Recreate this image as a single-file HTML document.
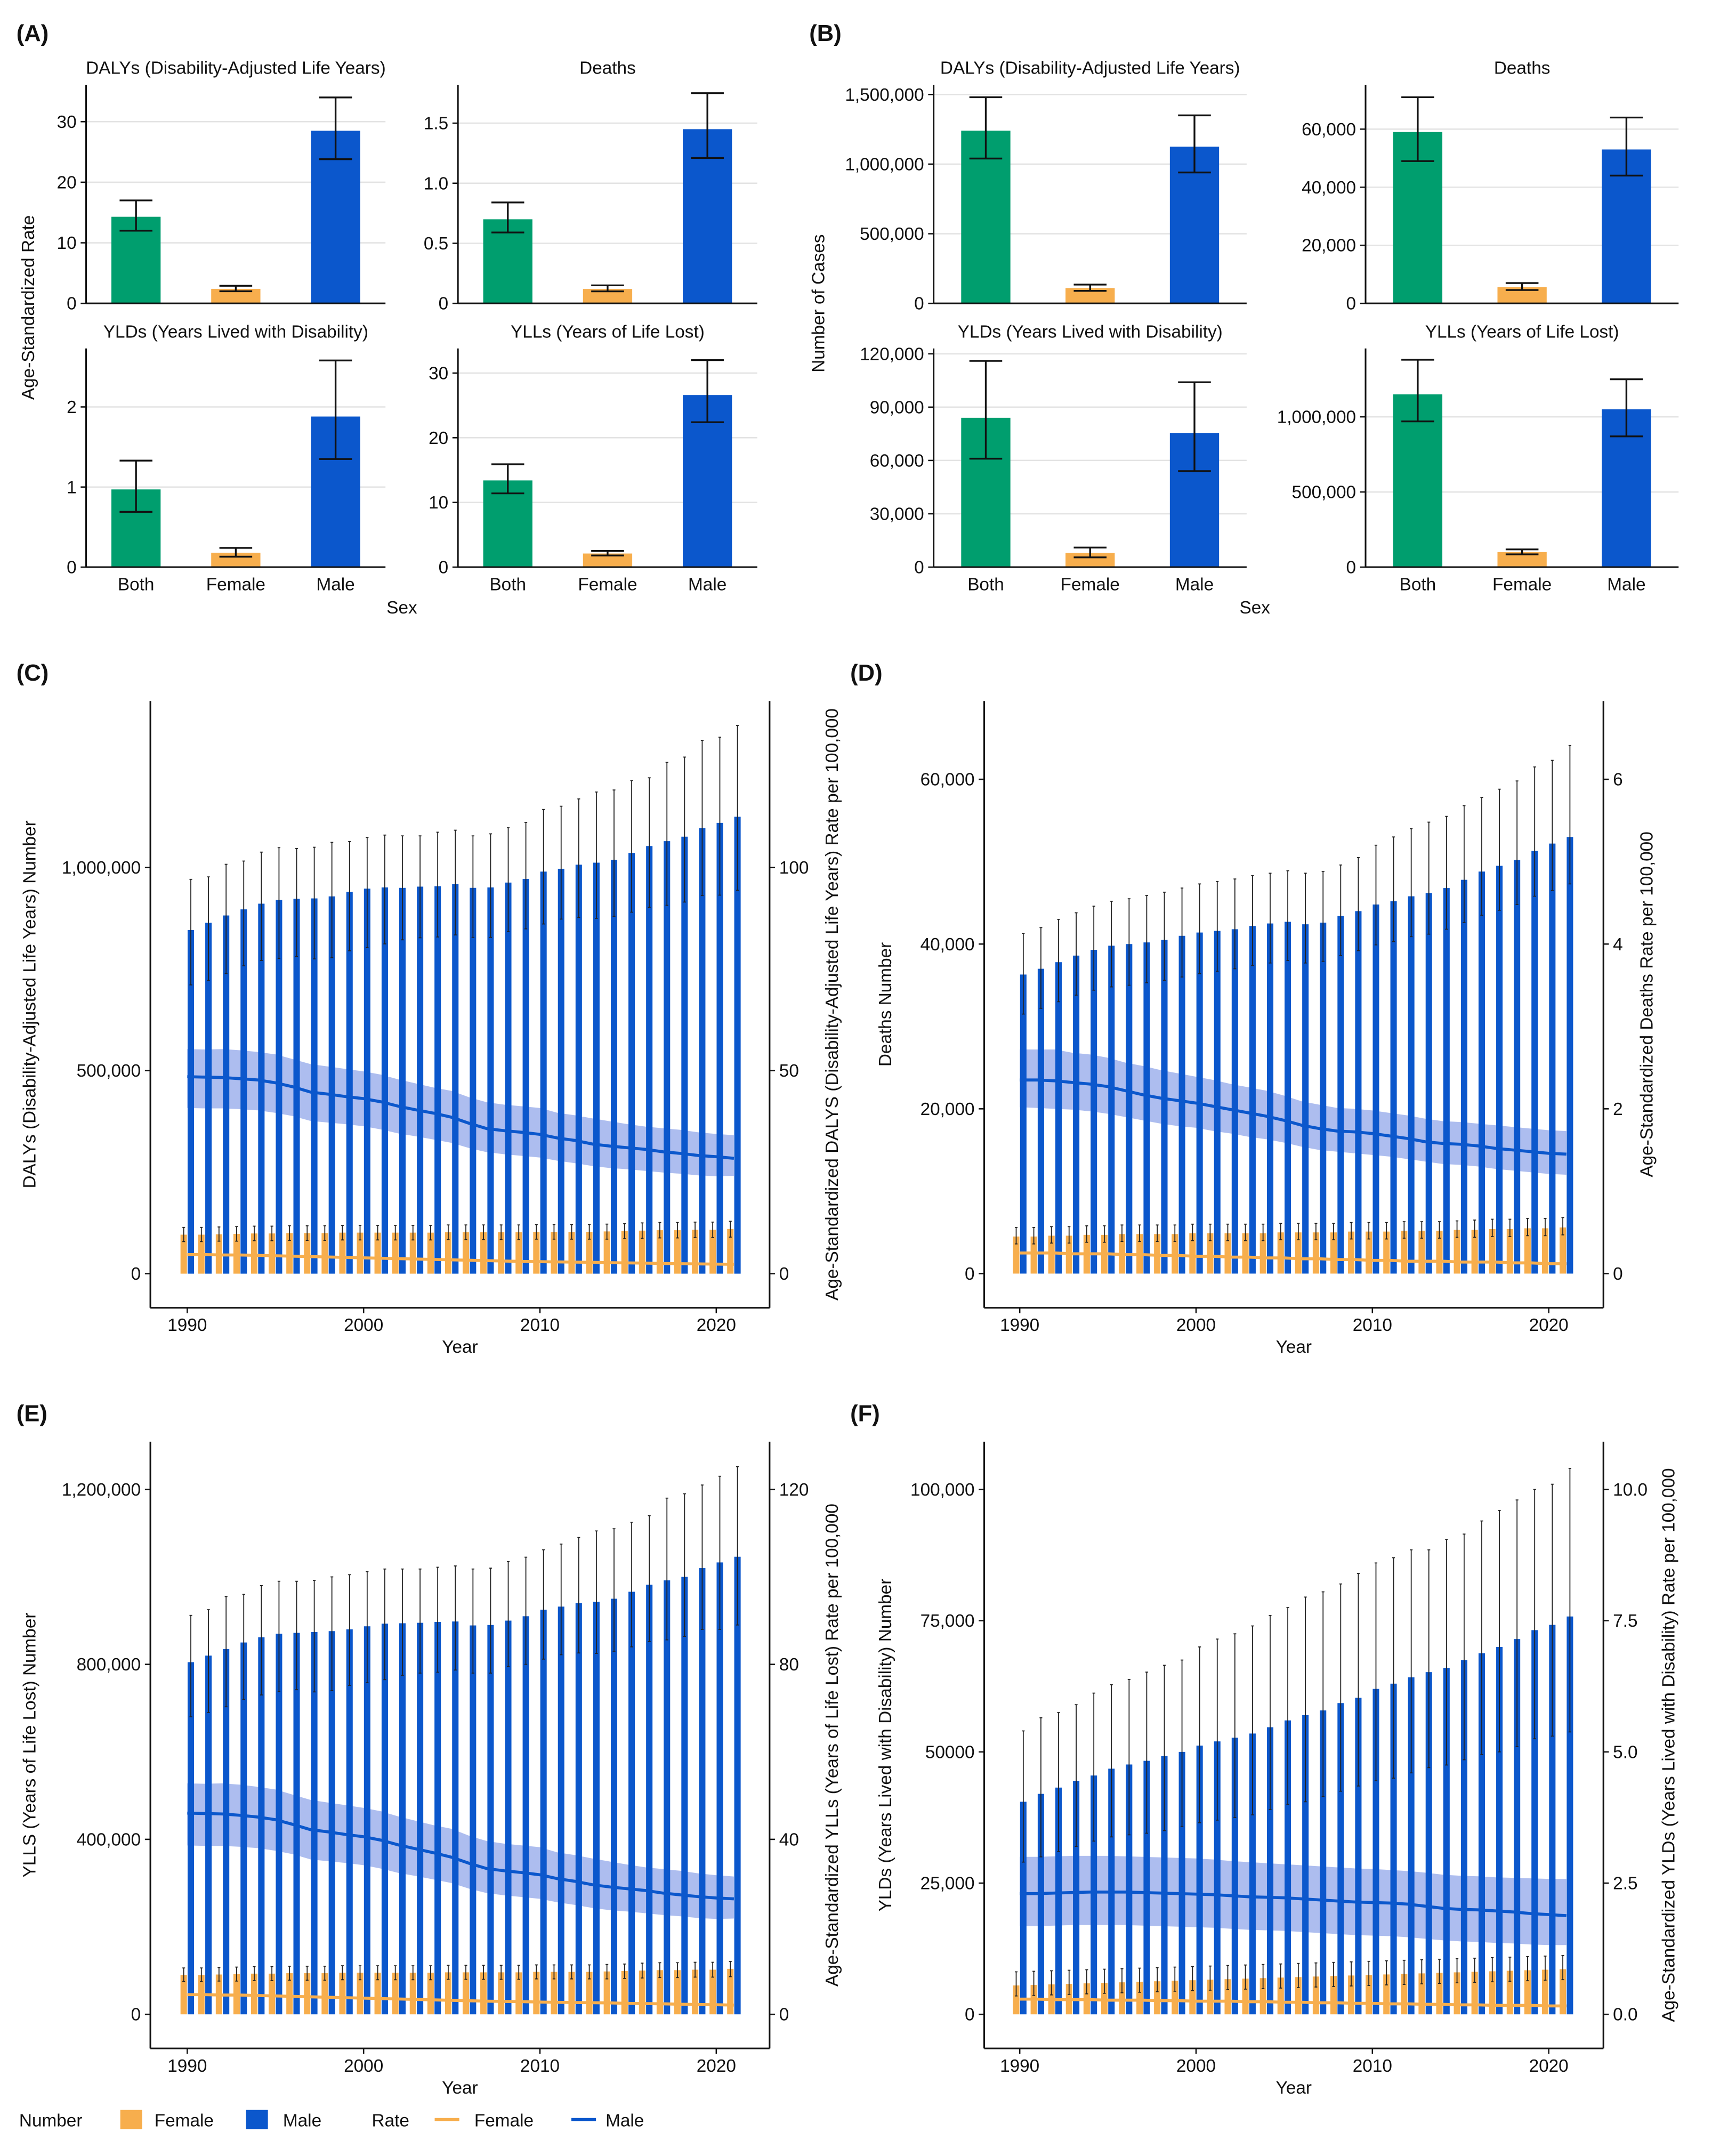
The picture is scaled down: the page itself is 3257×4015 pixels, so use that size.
<!DOCTYPE html>
<html><head><meta charset="utf-8"><style>
html,body{margin:0;padding:0;background:#fff}
svg{display:block}
text{font-family:"Liberation Sans",sans-serif;fill:#111}
</style></head><body>
<svg id="fig" width="3257" height="4015" viewBox="0 0 1270 1566" preserveAspectRatio="none" xmlns="http://www.w3.org/2000/svg"></svg>
<script>
// ---------- Panel A/B data ----------
const sexCats = ["Both","Female","Male"];
const aDalyVal=[14.3,2.4,28.5], aDalyLo=[12.0,2.0,23.8], aDalyHi=[17.0,2.9,34.0];
const aDeathVal=[0.70,0.12,1.45], aDeathLo=[0.59,0.10,1.21], aDeathHi=[0.84,0.15,1.75];
const aYldVal=[0.97,0.18,1.88], aYldLo=[0.69,0.13,1.35], aYldHi=[1.33,0.24,2.58];
const aYllVal=[13.4,2.1,26.6], aYllLo=[11.4,1.8,22.4], aYllHi=[15.9,2.5,32.0];
const bDalyVal=[1240000,110000,1125000], bDalyLo=[1040000,90000,940000], bDalyHi=[1480000,135000,1350000];
const bDeathVal=[59000,5600,53000], bDeathLo=[49000,4600,44000], bDeathHi=[71000,7000,64000];
const bYldVal=[84000,8000,75500], bYldLo=[61000,5500,54000], bYldHi=[116000,11000,104000];
const bYllVal=[1150000,100000,1050000], bYllLo=[970000,85000,870000], bYllHi=[1380000,118000,1250000];
// ---------- Time series (years 1990-2021) ----------
const years=[];for(let y=1990;y<=2021;y++)years.push(y);
const cMale=[846,864,882,897,911,920,923,924,929,940,948,951,950,953,954,959,950,951,963,972,990,997,1007,1012,1019,1036,1053,1065,1076,1097,1110,1125];
const cMaleHi=[971,977,1008,1016,1038,1049,1047,1050,1062,1064,1074,1080,1078,1078,1087,1092,1078,1083,1098,1111,1143,1151,1169,1186,1191,1214,1221,1259,1272,1313,1321,1350];
const cMaleLo=[711,722,739,758,771,776,781,775,778,795,803,812,822,827,829,834,828,828,842,849,861,873,877,875,880,890,902,907,915,931,932,944];
const cFem=[96,96,97,98,99,99,100,100,100,101,101,101,101,101,101,102,102,102,102,102,103,103,103,103,104,105,106,107,107,108,108,110];
const cFemHi=[114,114,115,116,117,117,118,118,118,119,119,119,119,119,119,120,120,120,120,120,121,121,121,121,122,123,125,126,126,127,127,129];
const cFemLo=[79,79,80,80,81,81,82,82,82,83,83,83,83,83,83,84,84,84,84,84,85,85,85,85,85,86,87,88,88,89,89,90];
const cRateM=[48.5,48.4,48.3,48.0,47.7,47.0,46.0,44.7,44.2,43.6,43.1,42.3,41.2,40.3,39.5,38.5,37.0,35.7,35.2,34.8,34.3,33.4,32.8,31.9,31.4,31.0,30.6,30.0,29.6,29.1,28.8,28.4];
const cRateMHi=[55.3,55.2,55.3,55.0,54.6,54.0,52.8,51.6,51.0,50.4,49.8,49.0,47.8,46.8,45.8,45.0,43.4,42.2,41.6,41.2,40.8,39.6,39.0,38.2,37.5,36.8,36.2,35.8,35.4,34.8,34.4,34.1];
const cRateMLo=[40.8,40.7,40.7,40.5,40.2,39.6,38.8,37.6,37.2,36.8,36.3,35.5,34.5,33.8,33.0,32.2,30.9,29.9,29.4,29.0,28.6,27.8,27.2,26.5,26.0,25.7,25.3,24.9,24.6,24.2,24.0,24.1];
const cRateF=[4.7,4.7,4.6,4.6,4.5,4.4,4.3,4.2,4.1,4.0,3.9,3.8,3.7,3.6,3.5,3.4,3.3,3.2,3.1,3.0,2.95,2.9,2.85,2.8,2.7,2.65,2.6,2.5,2.45,2.4,2.35,2.3];
const dMale=[36.3,37.0,37.8,38.6,39.3,39.8,40.0,40.2,40.5,41.0,41.4,41.6,41.8,42.2,42.5,42.7,42.4,42.6,43.4,44.0,44.8,45.2,45.8,46.2,46.8,47.8,48.8,49.5,50.2,51.3,52.2,53.0];
const dMaleHi=[41.3,42.0,43.0,43.8,44.6,45.2,45.5,45.9,46.3,46.8,47.3,47.6,47.9,48.3,48.6,48.9,48.6,48.8,49.6,50.5,52.0,53.0,54.0,54.8,55.5,56.8,57.8,58.8,59.8,61.5,62.3,64.1];
const dMaleLo=[31.5,32.2,33.0,33.8,34.4,34.8,35.0,35.3,35.6,36.0,36.4,36.7,37.0,37.4,37.7,38.0,37.7,37.9,38.6,39.2,39.9,40.3,40.9,41.2,41.8,42.6,43.5,44.1,44.8,45.8,46.5,47.3];
const dFem=[4.5,4.5,4.6,4.6,4.7,4.7,4.8,4.8,4.8,4.8,4.9,4.9,4.9,4.9,4.9,5.0,5.0,5.0,5.0,5.1,5.1,5.1,5.2,5.2,5.2,5.3,5.3,5.4,5.4,5.5,5.5,5.6];
const dFemHi=[5.6,5.6,5.7,5.7,5.8,5.8,5.9,5.9,5.9,5.9,6.0,6.0,6.0,6.0,6.0,6.1,6.1,6.1,6.1,6.2,6.2,6.2,6.3,6.3,6.3,6.4,6.5,6.6,6.6,6.7,6.7,6.8];
const dFemLo=[3.6,3.6,3.7,3.7,3.8,3.8,3.9,3.9,3.9,3.9,4.0,4.0,4.0,4.0,4.0,4.1,4.1,4.1,4.1,4.2,4.2,4.2,4.3,4.3,4.3,4.4,4.4,4.5,4.5,4.6,4.6,4.7];
const dRateM=[2.35,2.35,2.34,2.32,2.30,2.27,2.22,2.17,2.13,2.10,2.07,2.03,1.99,1.95,1.91,1.86,1.80,1.76,1.73,1.72,1.70,1.67,1.64,1.60,1.58,1.57,1.55,1.52,1.50,1.48,1.46,1.45];
const dRateMHi=[2.72,2.72,2.72,2.68,2.66,2.62,2.56,2.52,2.47,2.43,2.39,2.35,2.30,2.26,2.22,2.16,2.09,2.05,2.01,2.00,1.98,1.95,1.92,1.88,1.85,1.84,1.82,1.80,1.78,1.76,1.74,1.73];
const dRateMLo=[2.02,2.01,2.00,1.99,1.97,1.94,1.90,1.86,1.82,1.79,1.77,1.73,1.70,1.66,1.63,1.59,1.54,1.50,1.48,1.46,1.44,1.42,1.39,1.36,1.33,1.32,1.30,1.27,1.25,1.23,1.21,1.20];
const dRateF=[0.25,0.25,0.25,0.24,0.24,0.24,0.23,0.23,0.22,0.22,0.21,0.21,0.20,0.20,0.19,0.19,0.18,0.18,0.17,0.17,0.16,0.16,0.15,0.15,0.15,0.14,0.14,0.14,0.13,0.13,0.12,0.12];
const eMale=[805,820,835,850,862,870,872,874,876,880,887,893,894,895,897,898,889,890,900,910,925,932,940,943,950,966,982,992,1000,1020,1033,1046];
const eMaleHi=[912,925,955,960,980,990,990,992,1000,1005,1012,1018,1018,1018,1022,1025,1018,1020,1035,1045,1062,1075,1090,1105,1110,1125,1140,1180,1190,1210,1230,1252];
const eMaleLo=[680,690,703,720,730,738,742,737,740,752,758,765,775,780,782,787,780,780,795,800,812,822,826,825,830,840,852,856,864,880,880,890];
const eFem=[90,90,91,92,93,93,94,94,94,95,95,95,95,95,95,96,96,96,96,96,97,97,97,97,98,99,100,101,101,102,102,104];
const eFemHi=[106,106,107,108,109,109,110,110,110,111,111,111,111,111,111,112,112,112,112,112,113,113,113,113,114,115,117,118,118,119,119,121];
const eFemLo=[75,75,76,76,77,77,78,78,78,79,79,79,79,79,79,80,80,80,80,80,81,81,81,81,81,82,83,84,84,85,85,86];
const eRateM=[46.0,45.9,45.8,45.5,45.1,44.5,43.4,42.2,41.7,41.1,40.6,39.8,38.7,37.8,36.9,35.9,34.5,33.3,32.8,32.4,31.9,31.0,30.4,29.6,29.1,28.7,28.3,27.7,27.3,26.9,26.6,26.4];
const eRateMHi=[52.8,52.7,52.8,52.5,52.0,51.4,50.2,49.0,48.4,47.8,47.2,46.4,45.2,44.2,43.2,42.4,40.8,39.6,39.0,38.6,38.2,37.0,36.4,35.6,34.9,34.2,33.6,33.2,32.8,32.2,31.8,31.5];
const eRateMLo=[38.6,38.5,38.5,38.3,38.0,37.4,36.6,35.4,35.0,34.6,34.1,33.3,32.3,31.6,30.8,30.0,28.7,27.7,27.2,26.8,26.4,25.6,25.0,24.3,23.8,23.5,23.1,22.7,22.4,22.0,21.8,21.9];
const eRateF=[4.5,4.5,4.4,4.4,4.3,4.2,4.1,4.0,3.9,3.8,3.7,3.6,3.5,3.4,3.3,3.2,3.1,3.0,2.95,2.9,2.8,2.75,2.7,2.65,2.6,2.5,2.45,2.4,2.3,2.25,2.2,2.1];
const fMale=[40.5,42.0,43.2,44.5,45.5,46.8,47.6,48.3,49.2,50.0,51.2,52.0,52.7,53.5,54.7,56.0,57.0,57.9,59.3,60.3,62.0,63.0,64.2,65.2,66.0,67.5,68.8,70.0,71.5,73.2,74.2,75.8];
const fMaleHi=[54,56.5,57.5,59,61.2,62.8,63.8,65.2,66.5,67.5,70,71.5,72.5,74,76,77.5,79.5,80.5,82,84,86,87,88.5,88.5,90.5,91.5,94,96,98,100,101,104];
const fMaleLo=[29,30,31,32,33,33.8,34.2,34.5,35,35.8,36.5,37,37.5,38,39,40,40.5,41.5,42.5,43.5,44.5,45,46,47,47.5,48.5,49.5,50,51,52.5,53,53.8];
const fFem=[5.5,5.6,5.7,5.8,5.9,6.0,6.1,6.2,6.3,6.4,6.5,6.6,6.7,6.8,6.9,7.0,7.1,7.2,7.3,7.4,7.5,7.6,7.7,7.8,7.9,8.0,8.1,8.2,8.3,8.4,8.5,8.6];
const fFemHi=[8.1,8.2,8.3,8.4,8.5,8.6,8.7,8.8,8.9,9.0,9.1,9.2,9.3,9.4,9.5,9.6,9.7,9.8,9.9,10.0,10.1,10.2,10.3,10.4,10.5,10.6,10.7,10.8,10.9,11.0,11.1,11.2];
const fFemLo=[3.5,3.6,3.7,3.8,3.9,4.0,4.1,4.2,4.3,4.4,4.5,4.6,4.7,4.8,4.9,5.0,5.1,5.2,5.3,5.4,5.5,5.6,5.7,5.8,5.9,6.0,6.1,6.2,6.3,6.4,6.5,6.6];
const fRateM=[2.30,2.30,2.31,2.32,2.33,2.33,2.33,2.32,2.31,2.30,2.29,2.28,2.26,2.24,2.23,2.22,2.20,2.18,2.16,2.14,2.13,2.12,2.10,2.06,2.02,2.00,1.99,1.97,1.95,1.92,1.90,1.88];
const fRateMHi=[3.00,3.00,3.01,3.02,3.02,3.02,3.01,3.00,2.99,2.98,2.97,2.95,2.92,2.90,2.88,2.86,2.84,2.82,2.80,2.78,2.77,2.75,2.73,2.70,2.66,2.64,2.63,2.61,2.60,2.59,2.58,2.58];
const fRateMLo=[1.68,1.68,1.69,1.70,1.70,1.70,1.70,1.69,1.68,1.67,1.66,1.65,1.63,1.61,1.60,1.59,1.57,1.55,1.53,1.51,1.50,1.49,1.47,1.44,1.41,1.39,1.38,1.36,1.35,1.33,1.32,1.32];
const fRateF=[0.29,0.29,0.28,0.28,0.28,0.27,0.27,0.27,0.26,0.26,0.25,0.25,0.25,0.24,0.24,0.23,0.23,0.22,0.22,0.21,0.21,0.20,0.20,0.19,0.19,0.18,0.18,0.17,0.17,0.17,0.16,0.16];

const NS="http://www.w3.org/2000/svg";
const svg=document.getElementById('fig');
const GREEN="#009e6e",ORANGE="#f7ae4d",BLUE="#0b57cc",BAND="#9fb2ec";
function el(tag,attrs,parent){const e=document.createElementNS(NS,tag);for(const k in attrs)e.setAttribute(k,attrs[k]);(parent||svg).appendChild(e);return e;}
function txt(s,x,y,size,anchor,parent,rot){const t=el('text',{x:x,y:y,'font-size':size,'text-anchor':anchor||'middle'},parent);if(rot)t.setAttribute('transform','rotate(-90 '+x+' '+y+')');t.textContent=s;return t;}

function label(s,x,y){const t=txt(s,x,y,17,'start');t.setAttribute('font-weight','bold');

}

function barPanel(name,x0,x1,yTop,yBot,dmax,ticks,tickLbl,vals,lo,hi,title,showX){
  const g=el('g',{});
  
  
  const ys=v=>yBot-(v/dmax)*(yBot-yTop);
  const xs=i=>x0+((i+0.5)/3)*(x1-x0);
  ticks.forEach((t,i)=>{
    const gl=el('line',{x1:x0,x2:x1,y1:ys(t),y2:ys(t),stroke:'#e3e3e3','stroke-width':1},g);
    
    
    el('line',{x1:x0-4,x2:x0,y1:ys(t),y2:ys(t),stroke:'#111','stroke-width':1},g);
    const tl=txt(tickLbl[i],x0-7,ys(t)+4.5,13,'end',g);
    
    
  });
  const cols=[GREEN,ORANGE,BLUE];
  vals.forEach((v,i)=>{
    const cx=xs(i),w=36;
    const r=el('rect',{x:cx-w/2,y:ys(v),width:w,height:ys(0)-ys(v),fill:cols[i]},g);
    
    
    el('line',{x1:cx,x2:cx,y1:ys(lo[i]),y2:ys(hi[i]),stroke:'#111','stroke-width':1.3},g);
    el('line',{x1:cx-12,x2:cx+12,y1:ys(lo[i]),y2:ys(lo[i]),stroke:'#111','stroke-width':1.3},g);
    el('line',{x1:cx-12,x2:cx+12,y1:ys(hi[i]),y2:ys(hi[i]),stroke:'#111','stroke-width':1.3},g);
    if(showX){const xl=txt(sexCats[i],cx,yBot+17,13,'middle',g);
      
      }
  });
  el('line',{x1:x0,x2:x0,y1:yTop,y2:yBot,stroke:'#111','stroke-width':1.2},g);
  el('line',{x1:x0,x2:x1,y1:yBot,y2:yBot,stroke:'#111','stroke-width':1.2},g);
  const tt=txt(title,(x0+x1)/2,yTop-8,13,'middle',g);
  
  
}

label('(A)',12,30);
barPanel('a-dalys',63,282,62,222,36.1,[0,10,20,30],['0','10','20','30'],aDalyVal,aDalyLo,aDalyHi,'DALYs (Disability-Adjusted Life Years)',false);
barPanel('a-deaths',335,554,62,222,1.82,[0,0.5,1,1.5],['0','0.5','1.0','1.5'],aDeathVal,aDeathLo,aDeathHi,'Deaths',false);
barPanel('a-ylds',63,282,255,415,2.73,[0,1,2],['0','1','2'],aYldVal,aYldLo,aYldHi,'YLDs (Years Lived with Disability)',true);
barPanel('a-ylls',335,554,255,415,33.8,[0,10,20,30],['0','10','20','30'],aYllVal,aYllLo,aYllHi,'YLLs (Years of Life Lost)',true);
let t=txt('Age-Standardized Rate',25,225,13,'middle',null,true);


t=txt('Sex',294,449,13,'middle');


label('(B)',592,30);
barPanel('b-dalys',683,912,62,222,1570000,[0,500000,1000000,1500000],['0','500,000','1,000,000','1,500,000'],bDalyVal,bDalyLo,bDalyHi,'DALYs (Disability-Adjusted Life Years)',false);
barPanel('b-deaths',999,1228,62,222,75300,[0,20000,40000,60000],['0','20,000','40,000','60,000'],bDeathVal,bDeathLo,bDeathHi,'Deaths',false);
barPanel('b-ylds',683,912,255,415,123000,[0,30000,60000,90000,120000],['0','30,000','60,000','90,000','120,000'],bYldVal,bYldLo,bYldHi,'YLDs (Years Lived with Disability)',true);
barPanel('b-ylls',999,1228,255,415,1455000,[0,500000,1000000],['0','500,000','1,000,000'],bYllVal,bYllLo,bYllHi,'YLLs (Years of Life Lost)',true);
t=txt('Number of Cases',603,222,13,'middle',null,true);


t=txt('Sex',918,449,13,'middle');



function tsPanel(name,x0,x1,yTop,yBot,x1990,dmin,dmax,unit,rateDiv,lt,ltl,rt,rtl,male,mHi,mLo,fem,fHi,fLo,rM,rMHi,rMLo,rF,ylab,rlab,lOff,rOff){
  const g=el('g',{});
  
  
  const ys=v=>yBot-((v-dmin)/(dmax-dmin))*(yBot-yTop);
  const yr=v=>ys(v*rateDiv);
  const xs=y=>x1990+(y-1990)*12.9;
  const bw=4.7;
  let p='';years.forEach((y,i)=>{p+=(i?'L':'M')+xs(y)+' '+yr(rMHi[i]);});
  for(let i=years.length-1;i>=0;i--)p+='L'+xs(years[i])+' '+yr(rMLo[i]);
  const band=el('path',{d:p+'Z',fill:BAND,opacity:0.85},g);
  
  
  years.forEach((y,i)=>{
    const xf=xs(y)-2.6, xm=xs(y)+2.6;
    const rf=el('rect',{x:xf-bw/2,y:ys(fem[i]*unit),width:bw,height:ys(0)-ys(fem[i]*unit),fill:ORANGE},g);
    
    
    const rm=el('rect',{x:xm-bw/2,y:ys(male[i]*unit),width:bw,height:ys(0)-ys(male[i]*unit),fill:BLUE},g);
    
    
    [[xf,fLo[i],fHi[i]],[xm,mLo[i],mHi[i]]].forEach(e=>{
      el('line',{x1:e[0],x2:e[0],y1:ys(e[1]*unit),y2:ys(e[2]*unit),stroke:'#222','stroke-width':0.7},g);
      el('line',{x1:e[0]-1,x2:e[0]+1,y1:ys(e[1]*unit),y2:ys(e[1]*unit),stroke:'#222','stroke-width':0.7},g);
      el('line',{x1:e[0]-1,x2:e[0]+1,y1:ys(e[2]*unit),y2:ys(e[2]*unit),stroke:'#222','stroke-width':0.7},g);
    });
  });
  let lm='',lf='';years.forEach((y,i)=>{lm+=(i?'L':'M')+xs(y)+' '+yr(rM[i]);lf+=(i?'L':'M')+xs(y)+' '+yr(rF[i]);});
  const pf=el('path',{d:lf,fill:'none',stroke:ORANGE,'stroke-width':2.2},g);
  
  
  const pm=el('path',{d:lm,fill:'none',stroke:BLUE,'stroke-width':2.2},g);
  
  
  el('line',{x1:x0,x2:x0,y1:yTop,y2:yBot,stroke:'#111','stroke-width':1.2},g);
  el('line',{x1:x1,x2:x1,y1:yTop,y2:yBot,stroke:'#111','stroke-width':1.2},g);
  el('line',{x1:x0,x2:x1,y1:yBot,y2:yBot,stroke:'#111','stroke-width':1.2},g);
  lt.forEach((v,i)=>{el('line',{x1:x0-4,x2:x0,y1:ys(v),y2:ys(v),stroke:'#111'},g);
    const a=txt(ltl[i],x0-7,ys(v)+4.5,13,'end',g);
    
    });
  rt.forEach((v,i)=>{el('line',{x1:x1,x2:x1+4,y1:yr(v),y2:yr(v),stroke:'#111'},g);
    const a=txt(rtl[i],x1+7,yr(v)+4.5,13,'start',g);
    
    });
  [1990,2000,2010,2020].forEach(y=>{el('line',{x1:xs(y),x2:xs(y),y1:yBot,y2:yBot+4,stroke:'#111'},g);
    const a=txt(String(y),xs(y),yBot+17,13,'middle',g);
    
    });
  let a=txt('Year',(x0+x1)/2,yBot+33,13,'middle',g);
  
  
  a=txt(ylab,x0-lOff,(yTop+yBot)/2,13,'middle',g,true);
  
  
  a=txt(rlab,x1+rOff,(yTop+yBot)/2,13,'middle',g,true);
  
  
}
label('(C)',12,498);
tsPanel('panel-c-dalys',110,563,513,957,137,-84000,1410000,1000,10000,[0,500000,1000000],['0','500,000','1,000,000'],[0,50,100],['0','50','100'],
 cMale,cMaleHi,cMaleLo,cFem,cFemHi,cFemLo,cRateM,cRateMHi,cRateMLo,cRateF,'DALYs (Disability-Adjusted Life Years) Number','Age-Standardized DALYS (Disability-Adjusted Life Years) Rate per 100,000',84,50);
label('(D)',622,498);
tsPanel('panel-d-deaths',720,1173,513,957,746,-4150,69500,1000,10000,[0,20000,40000,60000],['0','20,000','40,000','60,000'],[0,2,4,6],['0','2','4','6'],
 dMale,dMaleHi,dMaleLo,dFem,dFemHi,dFemLo,dRateM,dRateMHi,dRateMLo,dRateF,'Deaths Number','Age-Standardized Deaths Rate per 100,000',68,36);
label('(E)',12,1040);
tsPanel('panel-e-ylls',110,563,1055,1499,137,-78000,1309000,1000,10000,[0,400000,800000,1200000],['0','400,000','800,000','1,200,000'],[0,40,80,120],['0','40','80','120'],
 eMale,eMaleHi,eMaleLo,eFem,eFemHi,eFemLo,eRateM,eRateMHi,eRateMLo,eRateF,'YLLS (Years of Life Lost) Number','Age-Standardized YLLs (Years of Life Lost) Rate per 100,000',84,50);
label('(F)',622,1040);
tsPanel('panel-f-ylds',720,1173,1055,1499,746,-6500,109100,1000,10000,[0,25000,50000,75000,100000],['0','25,000','50000','75,000','100,000'],[0,2.5,5,7.5,10],['0.0','2.5','5.0','7.5','10.0'],
 fMale,fMaleHi,fMaleLo,fFem,fFemHi,fFemLo,fRateM,fRateMHi,fRateMLo,fRateF,'YLDs (Years Lived with Disability) Number','Age-Standardized YLDs (Years Lived with Disability) Rate per 100,000',68,52);

const lg=el('g',{});


txt('Number',14,1556,13,'start',lg);
el('rect',{x:88,y:1544,width:16,height:14,fill:ORANGE},lg);
txt('Female',113,1556,13,'start',lg);
el('rect',{x:180,y:1544,width:16,height:14,fill:BLUE},lg);
txt('Male',207,1556,13,'start',lg);
txt('Rate',272,1556,13,'start',lg);
el('line',{x1:318,x2:336,y1:1551,y2:1551,stroke:ORANGE,'stroke-width':2.2},lg);
txt('Female',347,1556,13,'start',lg);
el('line',{x1:418,x2:436,y1:1551,y2:1551,stroke:BLUE,'stroke-width':2.2},lg);
txt('Male',443,1556,13,'start',lg);
</script>
</body></html>
